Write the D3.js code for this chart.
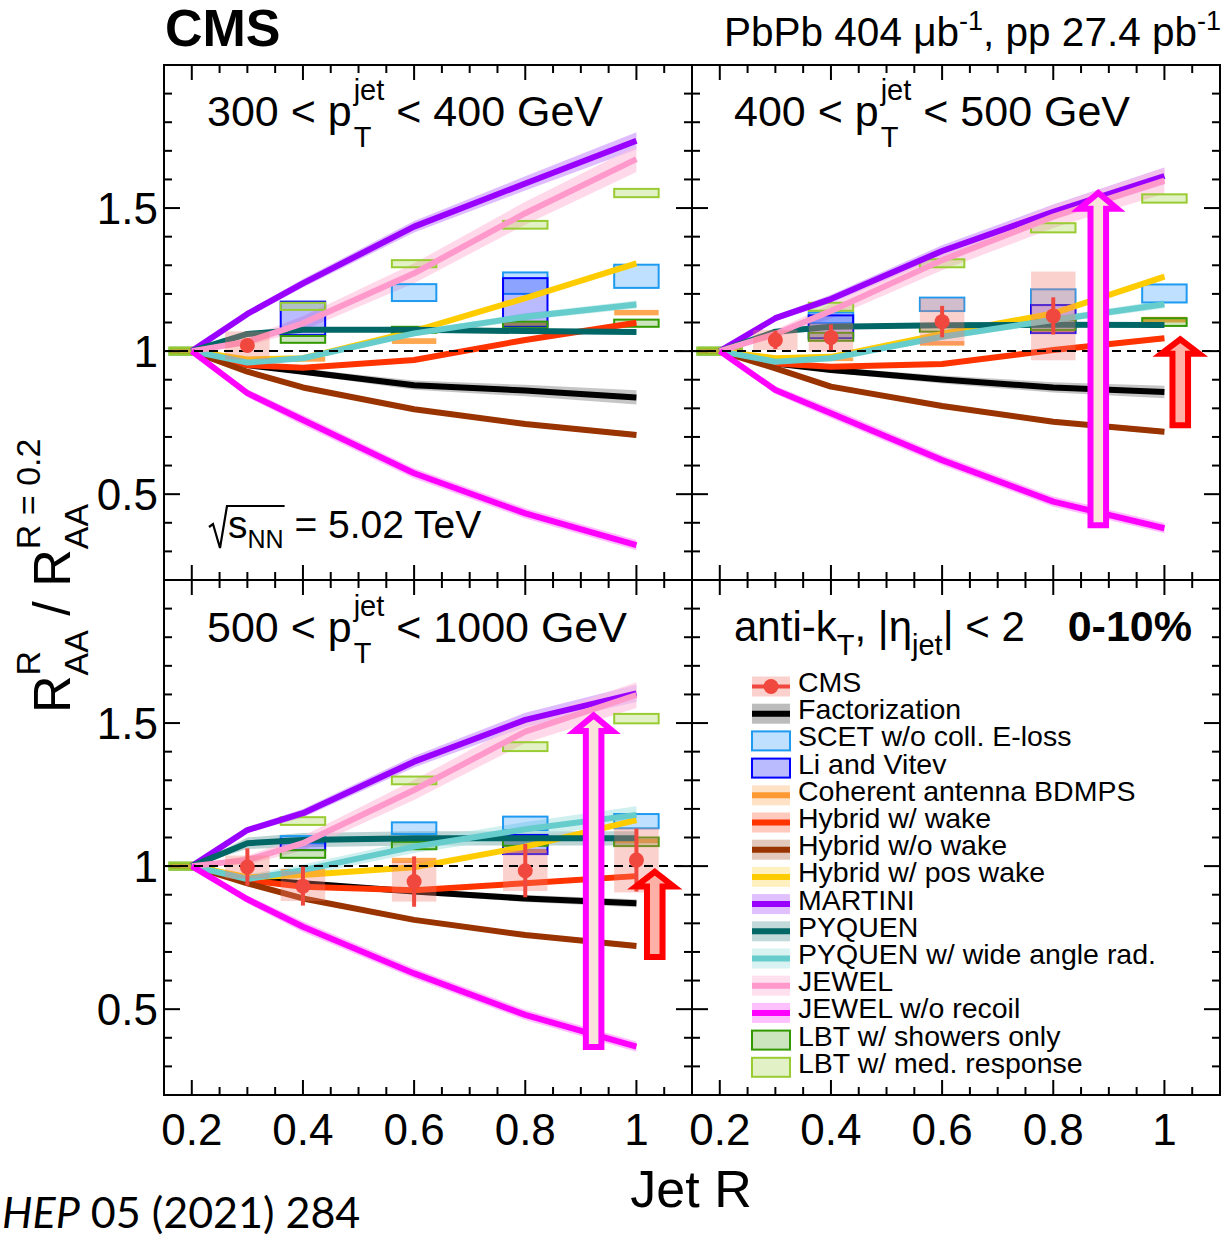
<!DOCTYPE html>
<html>
<head>
<meta charset="utf-8">
<title>CMS jet R dependence</title>
<script src="https://cdn.jsdelivr.net/npm/d3@7/dist/d3.min.js"></script>
<style>
html,body{margin:0;padding:0;background:#fff;}
svg{display:block;}
text{white-space:pre;}
</style>
</head>
<body>
<svg id="chart" width="1228" height="1236" xmlns="http://www.w3.org/2000/svg"></svg>
<script>
// ---------------- DATA ----------------
const R = [0.2, 0.3, 0.4, 0.6, 0.8, 1.0];
const ptBins = [["300", "400"], ["400", "500"], ["500", "1000"]];
const xTickLabels = [0.2, 0.4, 0.6, 0.8, 1.0];
const yTickLabels = [0.5, 1.0, 1.5];

const factorization = [
  [1, 0.951, 0.928, 0.881, 0.862, 0.838],
  [1, 0.957, 0.934, 0.901, 0.873, 0.857],
  [1, 0.954, 0.940, 0.911, 0.887, 0.870]];
const factorizationErr = [
  [0, 0.006, 0.010, 0.016, 0.020, 0.025],
  [0, 0.006, 0.010, 0.014, 0.018, 0.022],
  [0, 0.005, 0.008, 0.010, 0.012, 0.014]];
const hybridWake = [
  [1, 0.951, 0.942, 0.969, 1.039, 1.099],
  [1, 0.957, 0.945, 0.955, 1.004, 1.045],
  [1, 0.951, 0.928, 0.916, 0.940, 0.965]];
const hybridNoWake = [
  [1, 0.928, 0.873, 0.797, 0.745, 0.707],
  [1, 0.940, 0.876, 0.808, 0.753, 0.718],
  [1, 0.940, 0.887, 0.812, 0.759, 0.721]];
const hybridPosWake = [
  [1, 0.971, 0.975, 1.070, 1.185, 1.307],
  [1, 0.975, 0.980, 1.060, 1.132, 1.260],
  [1, 0.961, 0.969, 0.996, 1.068, 1.161]];
const hybridErr = [0, 0.004, 0.005, 0.006, 0.008, 0.010];
const martini = [
  [1, 1.130, 1.237, 1.435, 1.586, 1.735],
  [1, 1.115, 1.182, 1.350, 1.487, 1.612],
  [1, 1.126, 1.185, 1.365, 1.511, 1.604]];
const martiniErr = [0, 0.010, 0.015, 0.020, 0.025, 0.030];
const pyquen = [
  [1, 1.060, 1.075, 1.075, 1.070, 1.067],
  [1, 1.068, 1.085, 1.090, 1.092, 1.091],
  [1, 1.080, 1.091, 1.097, 1.097, 1.097]];
const pyquenErr = [
  [0, 0.006, 0.008, 0.008, 0.008, 0.008],
  [0, 0.006, 0.008, 0.008, 0.008, 0.008],
  [0, 0.020, 0.025, 0.025, 0.025, 0.025]];
const pyquenWide = [
  [1, 0.960, 0.975, 1.062, 1.120, 1.163],
  [1, 0.963, 0.975, 1.050, 1.109, 1.164],
  [1, 0.955, 0.986, 1.068, 1.129, 1.179]];
const pyquenWideErr = [
  [0, 0.006, 0.008, 0.010, 0.012, 0.014],
  [0, 0.006, 0.008, 0.010, 0.012, 0.014],
  [0, 0.015, 0.020, 0.022, 0.025, 0.030]];
const jewel = [
  [1, 1.033, 1.097, 1.272, 1.482, 1.671],
  [1, 1.060, 1.140, 1.318, 1.470, 1.596],
  [1, 1.021, 1.080, 1.266, 1.470, 1.598]];
const jewelErr = [0, 0.015, 0.025, 0.035, 0.040, 0.045];
const jewelNoRecoil = [
  [1, 0.853, 0.759, 0.573, 0.433, 0.322],
  [1, 0.864, 0.783, 0.619, 0.474, 0.381],
  [1, 0.884, 0.788, 0.625, 0.480, 0.369]];
const jewelNoRecoilErr = [0, 0.014, 0.018, 0.018, 0.018, 0.018];

// boxes: [R, low, high]
const scetBoxes = [
  [[0.6, 1.175, 1.234], [0.8, 1.200, 1.275], [1.0, 1.221, 1.302]],
  [[0.4, 1.097, 1.135], [0.6, 1.140, 1.187], [0.8, 1.161, 1.216], [1.0, 1.170, 1.233]],
  [[0.4, 1.080, 1.105], [0.6, 1.112, 1.153], [0.8, 1.126, 1.173], [1.0, 1.132, 1.182]]];
const liVitevBoxes = [
  [[0.4, 1.056, 1.173], [0.8, 1.085, 1.255]],
  [[0.4, 1.045, 1.125], [0.8, 1.063, 1.161]],
  [[0.4, 1.056, 1.095], [0.8, 1.042, 1.109]]];
const coherentBars = [
  [[0.2, 0.990, 1.010], [0.4, 0.963, 0.980], [0.6, 1.025, 1.045], [0.8, 1.085, 1.100], [1.0, 1.125, 1.144]],
  [[0.2, 0.990, 1.010], [0.4, 0.965, 0.978], [0.6, 1.019, 1.035], [0.8, 1.060, 1.074], [1.0, 1.100, 1.120]],
  [[0.2, 0.990, 1.010], [0.4, 0.975, 0.990], [0.6, 1.011, 1.029], [0.8, 1.045, 1.060], [1.0, 1.080, 1.095]]];
const lbtShowers = [
  [[0.2, 0.988, 1.012], [0.4, 1.029, 1.053], [0.6, 1.064, 1.085], [0.8, 1.080, 1.103], [1.0, 1.085, 1.110]],
  [[0.2, 0.988, 1.012], [0.4, 1.036, 1.064], [0.6, 1.068, 1.091], [0.8, 1.074, 1.109], [1.0, 1.088, 1.115]],
  [[0.2, 0.988, 1.012], [0.4, 1.029, 1.056], [0.6, 1.059, 1.085], [0.8, 1.071, 1.101], [1.0, 1.070, 1.100]]];
const lbtMedium = [
  [[0.2, 0.988, 1.012], [0.4, 1.144, 1.169], [0.6, 1.293, 1.318], [0.8, 1.428, 1.455], [1.0, 1.538, 1.567]],
  [[0.2, 0.988, 1.012], [0.4, 1.141, 1.169], [0.6, 1.293, 1.321], [0.8, 1.415, 1.447], [1.0, 1.519, 1.548]],
  [[0.2, 0.988, 1.012], [0.4, 1.144, 1.171], [0.6, 1.286, 1.313], [0.8, 1.402, 1.433], [1.0, 1.499, 1.532]]];

// CMS measurement
const cmsR    = [[0.3], [0.3, 0.4, 0.6, 0.8], [0.3, 0.4, 0.6, 0.8, 1.0]];
const cmsVal  = [[1.020], [1.039, 1.048, 1.103, 1.123], [0.997, 0.930, 0.946, 0.984, 1.021]];
const cmsStat = [[0.006], [0.032, 0.045, 0.055, 0.065], [0.065, 0.068, 0.088, 0.093, 0.110]];
const cmsSys  = [[0.049], [0.035, 0.050, 0.082, 0.155], [0.040, 0.052, 0.070, 0.071, 0.113]];

// annotation arrows (data units)
const arrowPanel  = [1, 1, 2, 2];
const arrowR      = [0.881, 1.0285, 0.923, 1.033];
const arrowTip    = [1.553, 1.041, 1.527, 0.980];
const arrowBase   = [1.498, 0.991, 1.472, 0.929];
const arrowBottom = [0.391, 0.741, 0.368, 0.682];
const arrowKind   = ["magenta", "red", "magenta", "red"];

const legendLabels = ["CMS", "Factorization", "SCET w/o coll. E-loss", "Li and Vitev",
  "Coherent antenna BDMPS", "Hybrid w/ wake", "Hybrid w/o wake", "Hybrid w/ pos wake",
  "MARTINI", "PYQUEN", "PYQUEN w/ wide angle rad.", "JEWEL", "JEWEL w/o recoil",
  "LBT w/ showers only", "LBT w/ med. response"];
const legendKeys = ["cms", "factorization", "scet", "liVitev", "coherent", "hybridWake",
  "hybridNoWake", "hybridPosWake", "martini", "pyquen", "pyquenWide", "jewel",
  "jewelNoRecoil", "lbtShowers", "lbtMedium"];

// ---------------- STYLES ----------------
const FONT = "'Liberation Sans', Arial, Helvetica, sans-serif";
const curveStyle = {
  factorization: {line: "#000000", band: "#a0a0a0", leg: "#bcbcbc"},
  coherent:      {line: "#ff9933", band: "#ffd9b3", leg: "#ffe2c6"},
  hybridWake:    {line: "#ff3300", band: "#ffb0a0", leg: "#ffc9bd"},
  hybridNoWake:  {line: "#993300", band: "#d0b0a0", leg: "#e2c9bc"},
  hybridPosWake: {line: "#ffcc00", band: "#ffe080", leg: "#fff0c0"},
  martini:       {line: "#9900ff", band: "#c890ff", leg: "#e0c0ff"},
  pyquen:        {line: "#006666", band: "#90b8b8", leg: "#c2d9d9"},
  pyquenWide:    {line: "#66cccc", band: "#b0e4e4", leg: "#d9f2f2"},
  jewel:         {line: "#ff99cc", band: "#ffc0dc", leg: "#ffe0ef"},
  jewelNoRecoil: {line: "#ff00ff", band: "#ff90ff", leg: "#ffc0ff"}
};
const boxStyle = {
  scet:       {fill: "#1e90ff", op: 0.28, stroke: "#1e9bf0"},
  liVitev:    {fill: "#0000ff", op: 0.27, stroke: "#0000ff"},
  lbtShowers: {fill: "#339900", op: 0.25, stroke: "#339900"},
  lbtMedium:  {fill: "#99cc33", op: 0.28, stroke: "#99cc33"}
};
const CMS_RED = "#f0483e";
const BOX_HALF = 0.04;

// ---------------- SETUP ----------------
const svg = d3.select("#chart");
const PW = 528, PH = 515;
const panelOrigin = [[164, 65], [692, 65], [164, 580], [692, 580]];
const sc = panelOrigin.map(([ox, oy]) => ({
  x: d3.scaleLinear().domain([0.15, 1.1]).range([ox, ox + PW]),
  y: d3.scaleLinear().domain([0.2, 2.0]).range([oy + PH, oy])
}));
const defs = svg.append("defs");
panelOrigin.forEach(([ox, oy], i) => {
  defs.append("clipPath").attr("id", "clip" + i).append("rect")
    .attr("x", ox).attr("y", oy).attr("width", PW).attr("height", PH);
});

function rich(g, x, y, items) {
  const grp = g.append("g");
  let curEnd = x, lastStart = x;
  items.forEach(it => {
    const sx = it.stack ? lastStart : curEnd + (it.gap || 0);
    const t = grp.append("text").attr("x", sx).attr("y", y + (it.dy || 0))
      .attr("font-family", it.f || FONT).attr("font-size", it.s)
      .attr("font-weight", it.w || "normal").attr("font-style", it.i ? "italic" : "normal")
      .attr("fill", "#000").text(it.t);
    const w = t.node().getComputedTextLength();
    if (it.stack) curEnd = Math.max(curEnd, sx + w);
    else { curEnd = sx + w; lastStart = sx; }
  });
  return {grp, width: curEnd - x};
}

const curves = [
  {key: "factorization", v: factorization, e: factorizationErr},
  {key: "hybridWake", v: hybridWake, e: [hybridErr, hybridErr, hybridErr]},
  {key: "hybridNoWake", v: hybridNoWake, e: [hybridErr, hybridErr, hybridErr]},
  {key: "hybridPosWake", v: hybridPosWake, e: [hybridErr, hybridErr, hybridErr]},
  {key: "martini", v: martini, e: [martiniErr, martiniErr, martiniErr]},
  {key: "pyquen", v: pyquen, e: pyquenErr},
  {key: "pyquenWide", v: pyquenWide, e: pyquenWideErr},
  {key: "jewel", v: jewel, e: [jewelErr, jewelErr, jewelErr]},
  {key: "jewelNoRecoil", v: jewelNoRecoil, e: [jewelNoRecoilErr, jewelNoRecoilErr, jewelNoRecoilErr]}
];
const boxSets = [
  {key: "scet", d: scetBoxes},
  {key: "liVitev", d: liVitevBoxes},
  {key: "lbtShowers", d: lbtShowers},
  {key: "lbtMedium", d: lbtMedium}
];

// ---------------- PANELS ----------------
for (let p = 0; p < 3; p++) {
  const {x, y} = sc[p];
  const g = svg.append("g").attr("clip-path", `url(#clip${p})`);
  curves.forEach(c => {
    const vals = c.v[p], errs = c.e[p];
    const area = d3.area().x((d, i) => x(R[i]))
      .y0((d, i) => y(vals[i] - errs[i])).y1((d, i) => y(vals[i] + errs[i]));
    g.append("path").attr("d", area(vals)).attr("fill", curveStyle[c.key].band).attr("opacity", 0.6);
  });
  coherentBars[p].forEach(([r, lo, hi]) => {
    g.append("rect").attr("x", x(r - BOX_HALF)).attr("width", x(r + BOX_HALF) - x(r - BOX_HALF))
      .attr("y", y(hi)).attr("height", y(lo) - y(hi))
      .attr("fill", curveStyle.coherent.line).attr("opacity", 0.85);
  });
  boxSets.forEach(b => {
    const st = boxStyle[b.key];
    b.d[p].forEach(([r, lo, hi]) => {
      g.append("rect").attr("x", x(r - BOX_HALF)).attr("width", x(r + BOX_HALF) - x(r - BOX_HALF))
        .attr("y", y(hi)).attr("height", y(lo) - y(hi))
        .attr("fill", st.fill).attr("fill-opacity", st.op)
        .attr("stroke", st.stroke).attr("stroke-width", 2);
    });
  });
  curves.forEach(c => {
    const line = d3.line().x((d, i) => x(R[i])).y(d => y(d));
    g.append("path").attr("d", line(c.v[p])).attr("fill", "none")
      .attr("stroke", curveStyle[c.key].line).attr("stroke-width", 6)
      .attr("stroke-linejoin", "round");
  });
  cmsR[p].forEach((r, k) => {
    g.append("rect").attr("x", x(r - BOX_HALF)).attr("width", x(r + BOX_HALF) - x(r - BOX_HALF))
      .attr("y", y(cmsVal[p][k] + cmsSys[p][k]))
      .attr("height", y(cmsVal[p][k] - cmsSys[p][k]) - y(cmsVal[p][k] + cmsSys[p][k]))
      .attr("fill", "#f47a70").attr("opacity", 0.35);
  });
  g.append("line").attr("x1", x(0.15)).attr("x2", x(1.1)).attr("y1", y(1)).attr("y2", y(1))
    .attr("stroke", "#000").attr("stroke-width", 2).attr("stroke-dasharray", "9,6");
  cmsR[p].forEach((r, k) => {
    g.append("line").attr("x1", x(r)).attr("x2", x(r))
      .attr("y1", y(cmsVal[p][k] - cmsStat[p][k])).attr("y2", y(cmsVal[p][k] + cmsStat[p][k]))
      .attr("stroke", CMS_RED).attr("stroke-width", 4);
    g.append("circle").attr("cx", x(r)).attr("cy", y(cmsVal[p][k])).attr("r", 7.5).attr("fill", CMS_RED);
  });
}

// arrows
arrowR.forEach((r, i) => {
  const {x, y} = sc[arrowPanel[i]];
  const sw = 0.014, hw = 0.034;
  const pts = [[r - sw, arrowBottom[i]], [r - sw, arrowBase[i]], [r - hw, arrowBase[i]],
    [r, arrowTip[i]], [r + hw, arrowBase[i]], [r + sw, arrowBase[i]], [r + sw, arrowBottom[i]]];
  const isM = arrowKind[i] === "magenta";
  svg.append("path").attr("d", d3.line().x(d => x(d[0])).y(d => y(d[1]))(pts) + "Z")
    .attr("fill", isM ? "#f8e4da" : "#ffb0a6")
    .attr("stroke", isM ? "#ff00ff" : "#ff0000").attr("stroke-width", 6)
    .attr("stroke-linejoin", "miter");
});

// frames and ticks
const xTickVals = d3.range(4, 22).map(k => k * 0.05);
const yTickVals = d3.range(3, 20).map(k => k / 10);
const isMult = (v, m) => Math.abs(v / m - Math.round(v / m)) < 1e-6;
panelOrigin.forEach(([ox, oy], i) => {
  const {x, y} = sc[i];
  const g = svg.append("g").attr("stroke", "#000").attr("stroke-width", 2);
  xTickVals.forEach(v => {
    const L = isMult(v, 0.2) ? 15 : 8;
    g.append("line").attr("x1", x(v)).attr("x2", x(v)).attr("y1", oy + PH).attr("y2", oy + PH - L);
    g.append("line").attr("x1", x(v)).attr("x2", x(v)).attr("y1", oy).attr("y2", oy + L);
  });
  yTickVals.forEach(v => {
    const L = isMult(v, 0.5) ? 16 : 8;
    g.append("line").attr("y1", y(v)).attr("y2", y(v)).attr("x1", ox).attr("x2", ox + L);
    g.append("line").attr("y1", y(v)).attr("y2", y(v)).attr("x1", ox + PW).attr("x2", ox + PW - L);
  });
  g.append("rect").attr("x", ox).attr("y", oy).attr("width", PW).attr("height", PH).attr("fill", "none");
});

// tick labels
[2, 3].forEach(i => {
  xTickLabels.forEach(v => {
    svg.append("text").attr("x", sc[i].x(v)).attr("y", 1145).attr("text-anchor", "middle")
      .attr("font-family", FONT).attr("font-size", 44).text(v === 1 ? "1" : v.toFixed(1));
  });
});
[0, 2].forEach(i => {
  yTickLabels.forEach(v => {
    svg.append("text").attr("x", 158).attr("y", sc[i].y(v) + 16).attr("text-anchor", "end")
      .attr("font-family", FONT).attr("font-size", 44).text(v === 1 ? "1" : v.toFixed(1));
  });
});

// panel labels
const labelPos = [[207, 126], [734, 126], [207, 642]];
ptBins.forEach((b, i) => {
  rich(svg, labelPos[i][0], labelPos[i][1], [
    {t: b[0] + " < p", s: 43},
    {t: "jet", s: 29, dy: -26, gap: 2},
    {t: "T", s: 29, dy: 21, stack: true},
    {t: " < " + b[1] + " GeV", s: 43}
  ]);
});

// sqrt(s_NN)
{
  const sx = 228, by = 538;
  const r1 = rich(svg, sx, by, [{t: "s", s: 39}, {t: "NN", s: 25, dy: 10}]);
  rich(svg, sx + r1.width, by, [{t: " = 5.02 TeV", s: 39}]);
  svg.append("path")
    .attr("d", `M${sx - 19},${by - 11} L${sx - 15},${by - 14} L${sx - 8},${by + 10} L${sx - 1},${by - 32} L${sx + r1.width + 1},${by - 32}`)
    .attr("fill", "none").attr("stroke", "#000").attr("stroke-width", 2.2);
}

// legend title
rich(svg, 734, 641, [
  {t: "anti-k", s: 42}, {t: "T", s: 29, dy: 14}, {t: ", |η", s: 42},
  {t: "jet", s: 29, dy: 14}, {t: "| < 2", s: 42}
]);
svg.append("text").attr("x", 1192).attr("y", 641).attr("text-anchor", "end")
  .attr("font-family", FONT).attr("font-size", 43).attr("font-weight", "bold").text("0-10%");

// legend
legendLabels.forEach((lab, i) => {
  const cy = 686.5 + i * 27.2, x0 = 752, x1 = 790;
  const key = legendKeys[i];
  const g = svg.append("g");
  if (key === "cms") {
    g.append("rect").attr("x", x0).attr("y", cy - 10).attr("width", x1 - x0).attr("height", 20)
      .attr("fill", "#f47a70").attr("opacity", 0.35);
    g.append("line").attr("x1", x0).attr("x2", x1).attr("y1", cy).attr("y2", cy)
      .attr("stroke", CMS_RED).attr("stroke-width", 4);
    g.append("circle").attr("cx", (x0 + x1) / 2).attr("cy", cy).attr("r", 7.5).attr("fill", CMS_RED);
  } else if (boxStyle[key]) {
    const st = boxStyle[key];
    g.append("rect").attr("x", x0).attr("y", cy - 9.5).attr("width", x1 - x0).attr("height", 19)
      .attr("fill", st.fill).attr("fill-opacity", st.op).attr("stroke", st.stroke).attr("stroke-width", 2);
  } else {
    const st = curveStyle[key];
    g.append("rect").attr("x", x0).attr("y", cy - 10).attr("width", x1 - x0).attr("height", 20).attr("fill", st.leg);
    g.append("line").attr("x1", x0).attr("x2", x1).attr("y1", cy).attr("y2", cy)
      .attr("stroke", st.line).attr("stroke-width", 6);
  }
  svg.append("text").attr("x", 798).attr("y", cy + 5.5).attr("font-family", FONT)
    .attr("font-size", 28.5).text(lab);
});

// header
svg.append("text").attr("x", 165).attr("y", 46).attr("font-family", FONT)
  .attr("font-size", 52).attr("font-weight", "bold").text("CMS");
{
  const r = rich(svg, 0, 46, [
    {t: "PbPb 404 μb", s: 40.5}, {t: "-1", s: 27, dy: -16},
    {t: ", pp 27.4 pb", s: 40.5}, {t: "-1", s: 27, dy: -16}
  ]);
  r.grp.attr("transform", `translate(${1221 - r.width},0)`);
}

// axis titles
svg.append("text").attr("x", 691).attr("y", 1207).attr("text-anchor", "middle")
  .attr("font-family", FONT).attr("font-size", 52).text("Jet R");
{
  const g = svg.append("g").attr("transform", "translate(70,713) rotate(-90)");
  rich(g, 0, 0, [
    {t: "R", s: 52}, {t: "R", s: 34, dy: -30}, {t: "AA", s: 34, dy: 18, stack: true},
    {t: " / ", s: 52}, {t: "R", s: 52},
    {t: "R = 0.2", s: 34, dy: -30}, {t: "AA", s: 34, dy: 18, stack: true}
  ]);
}

// reference
rich(svg, 2, 1228, [
  {t: "HEP", s: 43, i: true, f: "Lato, 'Open Sans', sans-serif"},
  {t: " 05 (2021) 284", s: 43, f: "Lato, 'Open Sans', sans-serif"}
]);
</script>
</body>
</html>
